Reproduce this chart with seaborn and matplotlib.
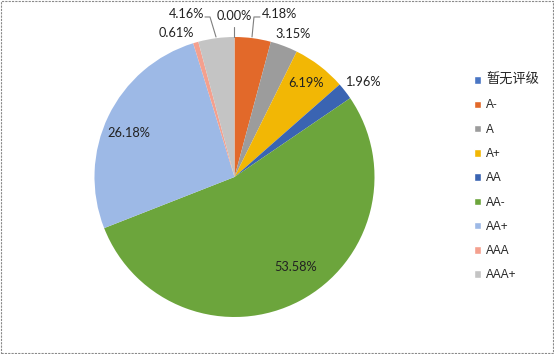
import matplotlib
matplotlib.use("Agg")
import matplotlib.pyplot as plt
import seaborn as sns
from matplotlib.patches import Rectangle

categories = ["暂无评级", "A-", "A", "A+", "AA", "AA-", "AA+", "AAA", "AAA+"]
values = [0.00, 4.18, 3.15, 6.19, 1.96, 53.58, 26.18, 0.61, 4.16]
label_texts = ["0.00%", "4.18%", "3.15%", "6.19%", "1.96%", "53.58%", "26.18%", "0.61%", "4.16%"]
colors = ["#4A76C4", "#E2692A", "#9C9C9C", "#F2B705", "#3A64B2",
          "#6CA53C", "#9DB9E6", "#F4A08E", "#C4C4C4"]

sns.set_theme(style="white")
plt.rcParams['font.family'] = ['Liberation Sans', 'Noto Sans CJK SC', 'DejaVu Sans']
palette = sns.color_palette(colors)

W, H = 554, 354
fig = plt.figure(figsize=(W / 100, H / 100), dpi=100)
cx, cy, R = 234.5, 177.0, 140.0
ax = fig.add_axes([0, 0, 1, 1])
ax.axis("off")

wedges, _ = ax.pie(values, colors=palette, startangle=90, counterclock=False,
                   radius=1.0, wedgeprops=dict(linewidth=0))
ax.set_aspect("auto")
ax.set_xlim(-cx / R, (W - cx) / R)
ax.set_ylim((cy - H) / R, cy / R)

# label positions (data units, pie radius = 1)
label_pos = {
    "0.00%": (0.0, 1.15),
    "4.18%": (0.325, 1.164),
    "3.15%": (0.418, 1.021),
    "6.19%": (0.511, 0.671),
    "1.96%": (0.918, 0.679),
    "53.58%": (0.439, -0.643),
    "26.18%": (-0.754, 0.314),
    "0.61%": (-0.418, 1.029),
    "4.16%": (-0.339, 1.164),
}
pct_font = dict(family=['Liberation Sans Narrow', 'Lato', 'DejaVu Sans'], size=9.2, color="#222222")
for t in label_texts:
    x, y = label_pos[t]
    ax.text(x, y, t, ha="center", va="center", **pct_font)

lc = "#7f7f7f"
# leader lines
ax.plot([-0.211, -0.175, -0.132], [1.143, 1.143, 1.0], color=lc, lw=0.8)
ax.plot([0.0, 0.0], [1.071, 1.0], color=lc, lw=0.8)
ax.plot([0.182, 0.139, 0.125], [1.143, 1.143, 1.0], color=lc, lw=0.8)

handles = [Rectangle((0, 0), 1, 1, facecolor=c) for c in palette]
leg = fig.legend(handles, categories, loc="upper left",
                 bbox_to_anchor=(468 / W, 1 - 68 / H), frameon=False,
                 fontsize=8.5, handlelength=0.6, handleheight=0.6,
                 handletextpad=0.45, labelspacing=1.04, borderpad=0)
leg.get_texts()[0].set_fontsize(9.5)

fig.patches.append(Rectangle((0.001, 0.002), 0.997, 0.995, transform=fig.transFigure,
                             fill=False, edgecolor="#8a8a8a", lw=0.8,
                             linestyle=(0, (2, 1)), figure=fig))

fig.savefig("out.png", dpi=100)
